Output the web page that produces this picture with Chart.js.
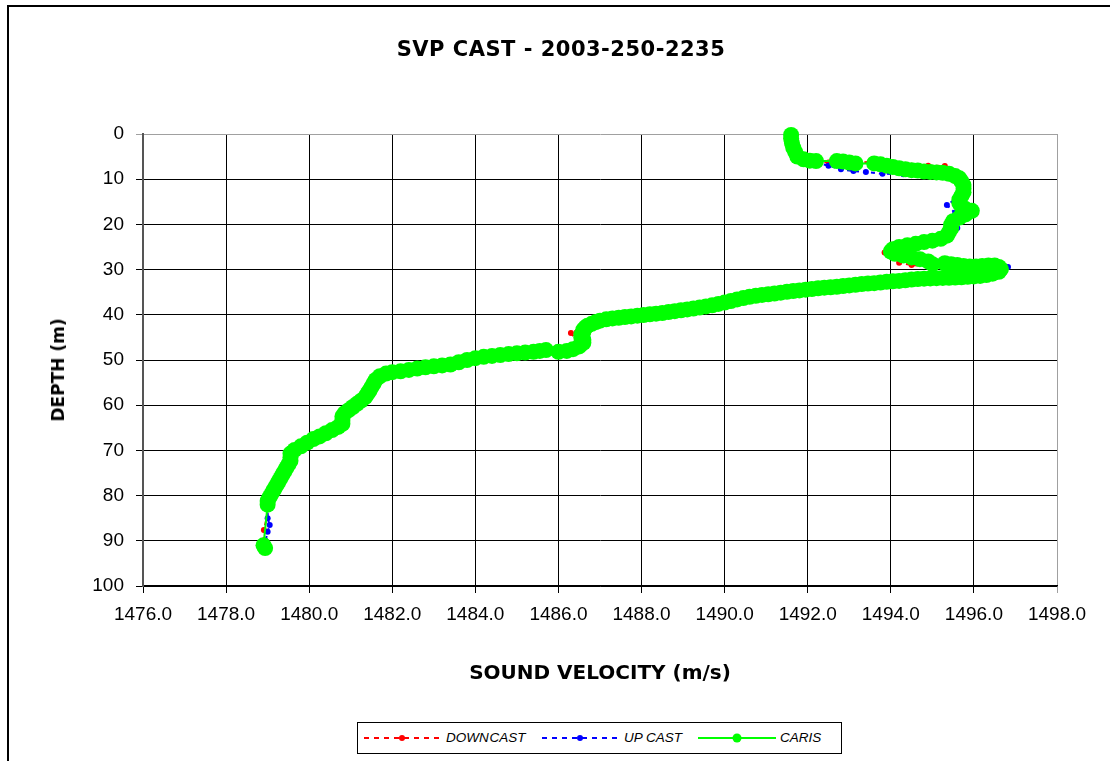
<!DOCTYPE html>
<html>
<head>
<meta charset="utf-8">
<script src="https://cdn.jsdelivr.net/npm/chart.js@4.4.1/dist/chart.umd.min.js"></script>
<style>
  body { margin: 0; background: #fff; }
  #wrap { position: relative; width: 1110px; height: 761px; overflow: hidden; }
  #frame { position: absolute; left: 7px; top: 5px; width: 1200px; height: 800px; border-left: 2px solid #000; border-top: 2px solid #000; }
  #mycanvas { position: absolute; left: 0; top: 0; }
  #title { position: absolute; left: 361px; width: 400px; top: 37px; text-align: center; white-space: nowrap;
           font-family: "DejaVu Sans", Verdana, sans-serif; font-weight: bold; font-size: 21px; letter-spacing: 0.5px; color: #000; }
  #ytitle { position: absolute; left: 58px; top: 370px; white-space: nowrap; transform: translate(-50%, -50%) rotate(-90deg);
            font-family: "DejaVu Sans", Verdana, sans-serif; font-weight: bold; font-size: 17px; color: #000; }
  #legend { position: absolute; left: 357px; top: 722px; width: 485px; height: 32px; border: 1px solid #000; box-sizing: border-box; background: #fff;
            font-family: "Liberation Sans", Arial, sans-serif; font-style: italic; font-size: 13.5px; color: #000; }
  #legend svg { position: absolute; top: 9px; }
  #legend span { position: absolute; top: 7px; white-space: nowrap; }
</style>
</head>
<body>
<div id="wrap">
  <div id="frame"></div>
  <canvas id="mycanvas" width="1110" height="761"></canvas>
  <div id="title">SVP CAST - 2003-250-2235</div>
  <div id="ytitle">DEPTH (m)</div>
  <div id="legend">
    <svg style="left:5px" width="80" height="12"><line x1="1" y1="6" x2="79" y2="6" stroke="#ff0000" stroke-width="2" stroke-dasharray="5,5"/><circle cx="39" cy="6" r="3" fill="#ff0000"/></svg>
    <span style="left:88px; word-spacing:-3px">DOWN CAST</span>
    <svg style="left:183px" width="80" height="12"><line x1="1" y1="6" x2="79" y2="6" stroke="#0000ff" stroke-width="2" stroke-dasharray="5,5"/><circle cx="39" cy="6" r="3" fill="#0000ff"/></svg>
    <span style="left:266px">UP CAST</span>
    <svg style="left:339px" width="80" height="12"><line x1="1" y1="6" x2="79" y2="6" stroke="#00ff00" stroke-width="2"/><circle cx="40" cy="6" r="4.5" fill="#00ff00"/></svg>
    <span style="left:422px">CARIS</span>
  </div>
</div>
<script>
// x = sound velocity (m/s), y = depth (m)
var downVelocity = [1491.6, 1491.7, 1492.0, 1492.5, 1493.0, 1493.5, 1494.0, 1494.5, 1494.9, 1495.3, 1495.6, 1495.75, 1495.7, 1496.05,
  1495.6, 1495.4, 1494.9, 1494.3, 1493.85, 1494.2, 1494.5, 1495.35, 1496.0, 1496.6, 1496.3, 1495.0, 1493.0, 1491.0, 1489.5,
  1488.0, 1486.8, 1486.3, 1486.5, 1486.0, 1485.0, 1484.0, 1483.0, 1482.0, 1481.6, 1481.4, 1481.0, 1480.8, 1480.5, 1480.1,
  1479.6, 1479.5, 1479.2, 1479.05, 1478.91, 1478.9];
var downDepth = [0.5, 4.0, 5.8, 6.3, 6.3, 6.2, 6.6, 7.0, 7.0, 7.1, 9.5, 13.0, 15.5, 17.5,
  19.0, 22.5, 23.9, 24.9, 26.2, 28.5, 29.0, 29.4, 29.5, 29.8, 31.2, 32.0, 33.5, 35.4, 38.2,
  40.0, 42.0, 44.0, 46.5, 48.2, 48.5, 49.6, 51.4, 52.8, 55.0, 58.0, 61.0, 63.5, 66.0, 67.8,
  70.8, 74.5, 78.5, 82.0, 87.6, 91.0];

var upVelocity = [1491.6, 1491.7, 1492.0, 1492.25, 1492.5, 1492.8, 1493.1, 1493.4, 1493.8, 1494.3, 1494.9, 1495.4, 1495.65, 1495.7,
  1495.35, 1495.55, 1495.4, 1495.6, 1495.3, 1494.6, 1494.0, 1494.5, 1495.33, 1495.8, 1496.3, 1496.82, 1496.5, 1495.5, 1494.0,
  1492.5, 1490.9, 1489.5, 1488.0, 1486.8, 1486.7, 1486.5, 1486.0, 1485.0, 1484.0, 1483.0, 1482.0, 1481.6, 1481.4, 1481.0,
  1480.8, 1480.5, 1480.1, 1479.6, 1479.5, 1479.2, 1479.0, 1479.0, 1479.0, 1479.05, 1479.0, 1478.95];
var upDepth = [0.5, 4.0, 5.9, 6.4, 7.0, 7.8, 8.2, 8.4, 8.8, 8.9, 9.0, 9.2, 11.0, 13.5,
  15.7, 17.5, 19.5, 20.8, 22.8, 24.2, 26.0, 27.5, 27.9, 28.6, 29.0, 29.4, 30.8, 31.8, 32.7,
  34.0, 35.2, 38.2, 40.0, 42.0, 45.1, 46.5, 48.2, 48.5, 49.6, 51.4, 52.8, 55.0, 58.0, 61.0,
  63.5, 66.0, 67.8, 70.8, 74.5, 78.5, 81.5, 83.0, 85.0, 86.5, 88.0, 90.0];

var carisVelocity = [
  1491.6, 1491.6, 1491.62, 1491.65, 1491.7, 1491.75, 1491.9, 1492.05, 1492.2,
  1492.7, 1492.85, 1493.0, 1493.15,
  1493.6, 1493.75, 1493.9, 1494.05, 1494.2, 1494.35, 1494.5, 1494.65, 1494.8, 1494.95, 1495.1, 1495.25, 1495.4,
  1495.55, 1495.65, 1495.7, 1495.75, 1495.75, 1495.75, 1495.7, 1495.65, 1495.65, 1495.7, 1495.8, 1495.95,
  1495.8, 1495.65, 1495.5, 1495.45, 1495.45, 1495.4, 1495.35, 1495.2, 1495.0, 1494.8, 1494.6, 1494.4, 1494.2,
  1494.05, 1494.0, 1494.1, 1494.3, 1494.5, 1494.7, 1494.9, 1495.0,
  1495.3, 1495.45, 1495.6, 1495.75, 1495.9, 1496.05, 1496.2, 1496.35, 1496.5, 1496.6, 1496.65, 1496.6, 1496.45,
  1496.3, 1496.15, 1496.0, 1495.85, 1495.7, 1495.55, 1495.4, 1495.25, 1495.1, 1494.95, 1494.8, 1494.65, 1494.5,
  1494.35, 1494.2, 1494.05, 1493.9, 1493.75, 1493.6, 1493.45, 1493.3, 1493.15, 1493.0, 1492.85, 1492.7, 1492.55,
  1492.4, 1492.25, 1492.1, 1491.95, 1491.8, 1491.65, 1491.5, 1491.35, 1491.2, 1491.05, 1490.9, 1490.75, 1490.6,
  1490.45, 1490.3, 1490.15, 1490.0, 1489.85, 1489.7, 1489.55, 1489.4, 1489.25, 1489.1, 1488.95, 1488.8, 1488.65,
  1488.5, 1488.35, 1488.2, 1488.05, 1487.9, 1487.75, 1487.6, 1487.45, 1487.3, 1487.15, 1487.0, 1486.9, 1486.8,
  1486.7, 1486.65, 1486.6, 1486.6, 1486.55, 1486.55, 1486.6, 1486.6, 1486.5, 1486.35, 1486.2, 1486.0,
  1485.7, 1485.55, 1485.4, 1485.2, 1485.0, 1484.8, 1484.6, 1484.4, 1484.2, 1484.0, 1483.8, 1483.6, 1483.4,
  1483.2, 1483.0, 1482.8, 1482.6, 1482.4, 1482.2, 1482.0, 1481.85, 1481.7, 1481.6, 1481.55, 1481.5, 1481.45,
  1481.4, 1481.35, 1481.25, 1481.15, 1481.05, 1480.95, 1480.85, 1480.8, 1480.8, 1480.8, 1480.7, 1480.55, 1480.4,
  1480.25, 1480.1, 1479.95, 1479.8, 1479.65, 1479.55, 1479.55, 1479.55, 1479.5, 1479.45, 1479.4, 1479.35, 1479.3,
  1479.25, 1479.2, 1479.15, 1479.1, 1479.05, 1479.0, 1479.0,
  1478.9, 1478.94];
var carisDepth = [
  0.2, 1.0, 2.0, 3.0, 4.0, 5.0, 5.6, 5.9, 6.0,
  6.0, 6.1, 6.3, 6.5,
  6.5, 6.7, 7.0, 7.3, 7.6, 7.8, 8.0, 8.1, 8.3, 8.4, 8.5, 8.6, 8.8,
  9.3, 9.8, 10.5, 11.3, 12.1, 12.9, 13.7, 14.5, 15.3, 16.0, 16.6, 17.0,
  17.8, 18.5, 19.3, 20.1, 20.9, 21.7, 22.5, 23.2, 23.6, 23.9, 24.3, 24.6, 25.0,
  25.5, 26.0, 26.5, 26.9, 27.3, 27.7, 28.2, 28.8,
  28.6, 28.8, 29.0, 29.2, 29.3, 29.3, 29.2, 29.1, 29.1, 29.4, 29.9, 30.5, 30.9,
  31.2, 31.4, 31.5, 31.6, 31.7, 31.75, 31.8, 31.85, 31.9, 31.95, 32.0, 32.1, 32.2,
  32.35, 32.5, 32.6, 32.7, 32.85, 33.0, 33.1, 33.2, 33.35, 33.5, 33.65, 33.8, 33.9,
  34.0, 34.15, 34.3, 34.45, 34.6, 34.75, 34.9, 35.1, 35.3, 35.45, 35.6, 35.8, 36.0,
  36.3, 36.6, 36.95, 37.3, 37.6, 37.9, 38.15, 38.4, 38.6, 38.8, 39.0, 39.2, 39.4,
  39.6, 39.75, 39.9, 40.05, 40.2, 40.35, 40.5, 40.65, 40.8, 41.0, 41.3, 41.6, 42.0,
  42.4, 42.8, 43.3, 43.8, 44.4, 45.0, 45.6, 46.2, 47.0, 47.6, 48.0, 48.2,
  47.8, 48.0, 48.2, 48.35, 48.5, 48.7, 48.9, 49.1, 49.3, 49.6, 50.0, 50.5, 51.0,
  51.2, 51.4, 51.6, 51.9, 52.2, 52.5, 52.7, 53.0, 53.6, 54.4, 55.2, 56.0, 56.8,
  57.5, 58.2, 59.0, 59.7, 60.4, 61.1, 61.8, 62.5, 63.3, 64.1, 64.8, 65.5, 66.2,
  66.9, 67.5, 68.3, 69.1, 69.9, 70.7, 71.5, 72.3, 73.1, 73.9, 74.7, 75.5, 76.3,
  77.1, 77.9, 78.7, 79.5, 80.3, 81.2, 82.0,
  91.0, 91.6];

var xTicksMin = 1476, xTicksMax = 1498, xStep = 2;
var yTicksMin = 0, yTicksMax = 100, yStep = 10;

function toPoints(xs, ys) {
  var pts = [];
  for (var i = 0; i < xs.length; i++) pts.push({x: xs[i], y: ys[i]});
  return pts;
}

var tickFont = {family: '"Liberation Sans", Arial, sans-serif', size: 19};
var axisTitleFont = {family: '"DejaVu Sans", Verdana, sans-serif', size: 20, weight: 'bold'};

var ctx = document.getElementById('mycanvas');
var chart = new Chart(ctx, {
  type: 'scatter',
  data: {
    datasets: [
      {
        label: 'DOWN CAST',
        data: toPoints(downVelocity, downDepth),
        showLine: true,
        borderColor: '#ff0000',
        backgroundColor: '#ff0000',
        borderWidth: 2,
        borderDash: [4, 4],
        pointRadius: 3,
        pointBorderWidth: 0,
        order: 2
      },
      {
        label: 'UP CAST',
        data: toPoints(upVelocity, upDepth),
        showLine: true,
        borderColor: '#0000ff',
        backgroundColor: '#0000ff',
        borderWidth: 2,
        borderDash: [4, 4],
        pointRadius: 3,
        pointBorderWidth: 0,
        order: 1
      },
      {
        label: 'CARIS',
        data: toPoints(carisVelocity, carisDepth),
        showLine: true,
        borderColor: '#00ff00',
        backgroundColor: '#00ff00',
        borderWidth: 2,
        pointRadius: 8,
        pointBorderWidth: 0,
        clip: 10,
        order: 0
      }
    ]
  },
  options: {
    responsive: false,
    animation: false,
    events: [],
    layout: {padding: {left: 10, right: 53, top: 134, bottom: 75}},
    plugins: {
      legend: {display: false},
      tooltip: {enabled: false},
      title: {display: false}
    },
    scales: {
      x: {
        type: 'linear',
        min: xTicksMin,
        max: xTicksMax,
        ticks: {
          stepSize: xStep,
          color: '#000',
          font: tickFont,
          padding: 10,
          maxRotation: 0,
          callback: function(v) { return v.toFixed(1); }
        },
        grid: {
          color: function(c) { return c.tick && c.tick.value === xTicksMax ? '#a0a0a0' : '#000'; },
          lineWidth: 1,
          tickLength: 7
        },
        border: {color: '#000', width: 1.5},
        title: {
          display: true,
          text: 'SOUND VELOCITY (m/s)',
          color: '#000',
          font: axisTitleFont,
          padding: {top: 7, bottom: 0}
        },
        afterFit: function(scale) { scale.height = 100; }
      },
      y: {
        type: 'linear',
        reverse: true,
        min: yTicksMin,
        max: yTicksMax,
        ticks: {
          stepSize: yStep,
          color: '#000',
          font: tickFont,
          padding: 12
        },
        grid: {
          color: function(c) { return c.tick && c.tick.value === yTicksMin ? '#a0a0a0' : '#000'; },
          lineWidth: 1,
          tickLength: 7
        },
        border: {color: '#555', width: 2},
        title: {display: false},
        afterFit: function(scale) { scale.width = 133; }
      }
    }
  }
});
</script>
</body>
</html>
